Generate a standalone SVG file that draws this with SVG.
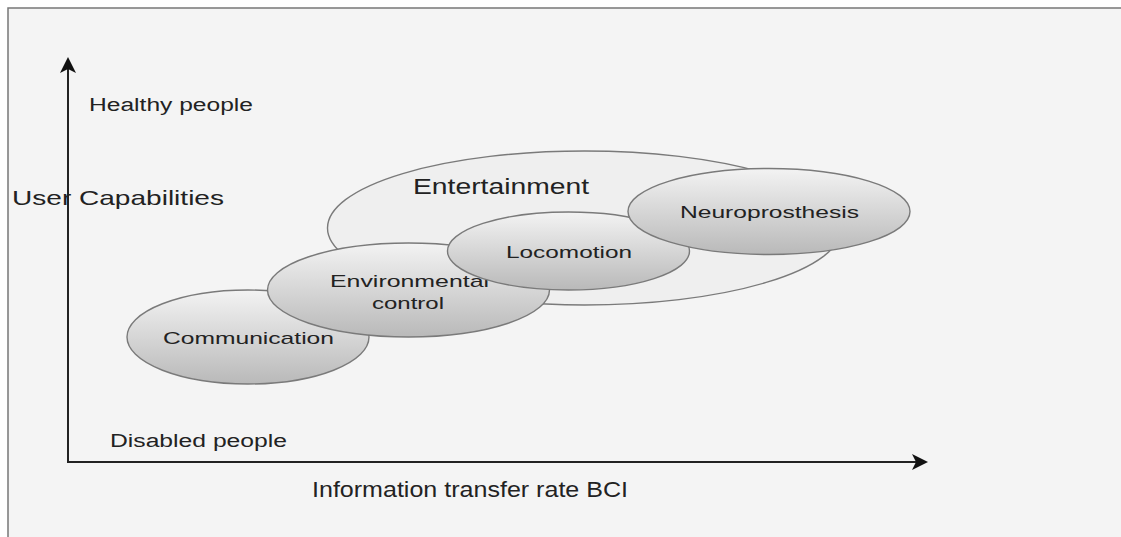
<svg xmlns="http://www.w3.org/2000/svg" width="1121" height="537" viewBox="0 0 1121 537">
<defs>
<linearGradient id="g" x1="0" y1="0" x2="0" y2="1">
<stop offset="0" stop-color="#f3f3f3"/>
<stop offset="1" stop-color="#b9b9b9"/>
</linearGradient>
<marker id="ah" viewBox="0 0 16 16" refX="14" refY="8" markerWidth="16" markerHeight="16" markerUnits="userSpaceOnUse" orient="auto">
<path d="M0,0 L16,8 L0,16 L4,8 Z" fill="#111"/>
</marker>
<style>
text{font-family:"Liberation Sans",Arial,sans-serif;fill:#222;}
.e{stroke:#7a7a7a;stroke-width:1.4;}
.n{fill:url(#g);}
.ax{stroke:#222;stroke-width:2;fill:none;}
</style>
</defs>
<rect x="0" y="0" width="1121" height="537" fill="#ffffff"/>
<rect x="8" y="8" width="1113" height="529" fill="#f4f4f4"/>
<path d="M8,537 L8,8 L1121,8" fill="none" stroke="#777" stroke-width="1.5"/>
<g id="connectors">
<line class="ax" x1="68" y1="462" x2="68" y2="59" marker-end="url(#ah)"/>
<line class="ax" x1="67" y1="462" x2="926" y2="462" marker-end="url(#ah)"/>
</g>
<g id="label-healthy"><text x="89" y="111" font-size="18" textLength="164" lengthAdjust="spacingAndGlyphs">Healthy people</text></g>
<g id="label-user"><text x="12" y="205" font-size="21" textLength="212" lengthAdjust="spacingAndGlyphs">User Capabilities</text></g>
<g id="label-disabled"><text x="110" y="447" font-size="18" textLength="177" lengthAdjust="spacingAndGlyphs">Disabled people</text></g>
<g id="label-itr"><text x="312" y="497" font-size="22" textLength="316" lengthAdjust="spacingAndGlyphs">Information transfer rate BCI</text></g>
<g id="entertainment">
<ellipse class="e" cx="584.5" cy="228" rx="257" ry="77" fill="#efefef"/>
<text x="413" y="194" font-size="22" textLength="176" lengthAdjust="spacingAndGlyphs">Entertainment</text>
</g>
<g id="communication">
<ellipse class="e n" cx="248" cy="337" rx="121" ry="47"/>
<text x="163" y="344" font-size="17" textLength="171" lengthAdjust="spacingAndGlyphs">Communication</text>
</g>
<g id="environmental">
<ellipse class="e n" cx="408.5" cy="290" rx="141" ry="47"/>
<text x="330" y="287" font-size="17" textLength="159" lengthAdjust="spacingAndGlyphs">Environmental</text>
<text x="372" y="309" font-size="17" textLength="72" lengthAdjust="spacingAndGlyphs">control</text>
</g>
<g id="locomotion">
<ellipse class="e n" cx="568.5" cy="251" rx="121" ry="39"/>
<text x="506" y="258" font-size="17" textLength="126" lengthAdjust="spacingAndGlyphs">Locomotion</text>
</g>
<g id="neuroprosthesis">
<ellipse class="e n" cx="769" cy="211.5" rx="141" ry="43"/>
<text x="680" y="218" font-size="17" textLength="179" lengthAdjust="spacingAndGlyphs">Neuroprosthesis</text>
</g>
</svg>
